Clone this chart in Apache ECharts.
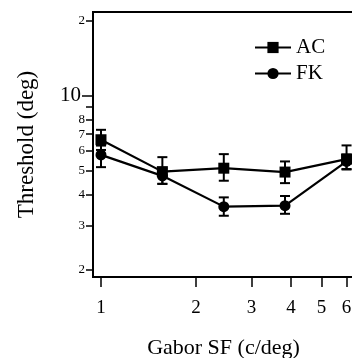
<!DOCTYPE html>
<html>
<head>
<meta charset="utf-8">
<script src="https://cdn.jsdelivr.net/npm/echarts@6/dist/echarts.min.js"></script>
<style>html,body{margin:0;padding:0;background:#fff}#chart{width:352px;height:358px}</style>
</head>
<body>
<div id="chart"></div>
<script>
// Gabor spatial frequency (c/deg)
const sfValues = [1, 1.565, 2.45, 3.83, 6];

// AC thresholds (deg) with error bar ends
const acMean = [6.65, 4.95, 5.11, 4.93, 5.56];
const acHigh = [7.29, 5.66, 5.82, 5.44, 6.31];
const acLow = [6.05, 4.42, 4.55, 4.45, 5.05];

// FK thresholds (deg)
const fkMean = [5.78, 4.76, 3.58, 3.61, 5.44];
const fkHigh = [6.3, 5.1, 3.9, 3.95, 5.8];
const fkLow = [5.16, 4.42, 3.29, 3.35, 5.07];

// ticks
const yTickValues = [2, 3, 4, 5, 6, 7, 8, 9, 10, 20];
const yTickLabels = ['2', '3', '4', '5', '6', '7', '8', '', '10', '2'];
const xTickValues = [1, 2, 3, 4, 5, 6];
const xTickLabels = ['1', '2', '3', '4', '5', '6'];

const lg = v => Math.log10(v);
const FONT = 'Liberation Serif';

function findLabel(vals, labels, v) {
    for (let i = 0; i < vals.length; i++) {
        if (Math.abs(lg(vals[i]) - v) < 1e-6) return labels[i];
    }
    return '';
}

function errorBar(params, api) {
    const x = api.value(0);
    const top = api.coord([x, api.value(2)]);
    const bot = api.coord([x, api.value(1)]);
    const w = 5;
    const style = { stroke: '#000', lineWidth: 2, fill: null };
    return {
        type: 'group',
        children: [
            { type: 'line', shape: { x1: top[0], y1: top[1], x2: bot[0], y2: bot[1] }, style: style },
            { type: 'line', shape: { x1: top[0] - w, y1: top[1], x2: top[0] + w, y2: top[1] }, style: style },
            { type: 'line', shape: { x1: bot[0] - w, y1: bot[1], x2: bot[0] + w, y2: bot[1] }, style: style }
        ]
    };
}

const chart = echarts.init(document.getElementById('chart'));

const option = {
    animation: false,
    backgroundColor: '#fff',
    grid: {
        left: 93, top: 12, width: 292, height: 265,
        outerBoundsMode: 'none', containLabel: false,
        show: true, borderColor: '#000', borderWidth: 2, backgroundColor: 'transparent'
    },
    legend: {
        data: ['AC', 'FK'],
        orient: 'vertical',
        left: 254, top: 37, padding: 0,
        itemWidth: 36, itemHeight: 14, itemGap: 5,
        textStyle: { fontFamily: FONT, fontSize: 21, color: '#000', lineHeight: 20 }
    },
    xAxis: {
        type: 'value',
        min: -0.0253, max: 0.9,
        splitLine: { show: false },
        axisLine: { show: true, onZero: false, lineStyle: { color: '#000', width: 2 } },
        axisTick: {
            show: true, length: 10,
            customValues: xTickValues.map(lg),
            lineStyle: { color: '#000', width: 1.5 }
        },
        axisLabel: {
            customValues: xTickValues.map(lg),
            margin: 22,
            fontFamily: FONT, fontSize: 19, color: '#000',
            formatter: v => findLabel(xTickValues, xTickLabels, v)
        },
        name: 'Gabor SF (c/deg)',
        nameLocation: 'middle',
        nameGap: 60,
        nameTextStyle: { fontFamily: FONT, fontSize: 22, color: '#000', padding: [0, 31, 0, 0] }
    },
    yAxis: [{
        type: 'value',
        position: 'left',
        min: lg(1.866), max: lg(21.7),
        splitLine: { show: false },
        axisLine: { show: true, onZero: false, lineStyle: { color: '#000', width: 2 } },
        axisTick: {
            show: true, length: 7,
            customValues: yTickValues.map(lg),
            lineStyle: { color: '#000', width: 1.5 }
        },
        axisLabel: {
            customValues: yTickValues.map(lg),
            margin: 8,
            fontFamily: FONT, fontSize: 13, color: '#000',
            formatter: v => {
                const s = findLabel(yTickValues, yTickLabels, v);
                return s === '10' ? '{big|10}' : s;
            },
            rich: { big: { fontFamily: FONT, fontSize: 21, color: '#000', padding: [0, 4, 0, 0] } }
        },
        name: 'Threshold (deg)',
        nameLocation: 'middle',
        nameRotate: 90,
        nameGap: 55,
        nameTextStyle: { fontFamily: FONT, fontSize: 23, color: '#000' }
    }, {
        type: 'value',
        position: 'left',
        min: lg(1.866), max: lg(21.7),
        splitLine: { show: false },
        axisLine: { show: false, onZero: false },
        axisTick: {
            show: true, length: 11,
            customValues: [lg(10)],
            lineStyle: { color: '#000', width: 1.5 }
        },
        axisLabel: { show: false }
    }],
    series: [
        {
            name: 'AC',
            type: 'line',
            symbol: 'rect', symbolSize: 11,
            lineStyle: { color: '#000', width: 2.2 },
            itemStyle: { color: '#000' },
            data: sfValues.map((x, i) => [lg(x), lg(acMean[i])]),
            z: 3
        },
        {
            name: 'FK',
            type: 'line',
            symbol: 'circle', symbolSize: 11,
            lineStyle: { color: '#000', width: 2.2 },
            itemStyle: { color: '#000' },
            data: sfValues.map((x, i) => [lg(x), lg(fkMean[i])]),
            z: 3
        },
        {
            name: 'AC err',
            type: 'custom',
            renderItem: errorBar,
            data: sfValues.map((x, i) => [lg(x), lg(acLow[i]), lg(acHigh[i])]),
            z: 2
        },
        {
            name: 'FK err',
            type: 'custom',
            renderItem: errorBar,
            data: sfValues.map((x, i) => [lg(x), lg(fkLow[i]), lg(fkHigh[i])]),
            z: 2
        }
    ]
};

chart.setOption(option);
</script>
</body>
</html>
